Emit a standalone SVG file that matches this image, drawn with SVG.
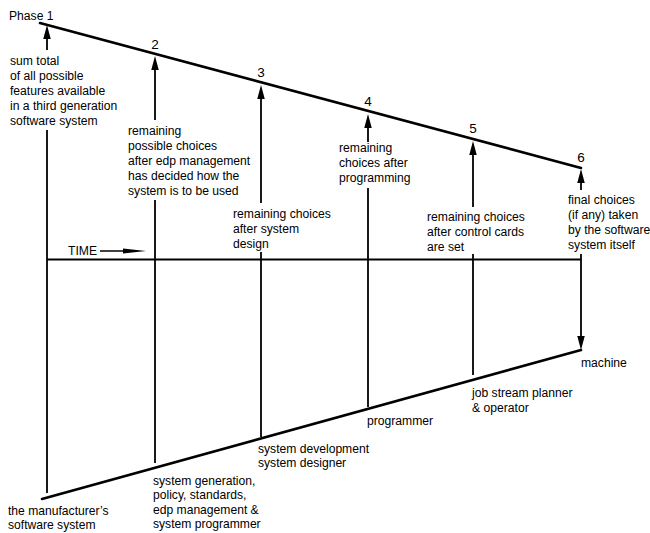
<svg xmlns="http://www.w3.org/2000/svg" width="650" height="533" viewBox="0 0 650 533">
<style>
.t{font-family:"Liberation Sans",Arial,sans-serif;font-size:13.5px;fill:#000}
.s{font-family:"Liberation Sans",Arial,sans-serif;font-size:12.5px;fill:#000}
.n{font-family:"Liberation Sans",Arial,sans-serif;font-size:13.5px;fill:#000;text-anchor:middle}
.thick{stroke:#000;stroke-width:2.6;fill:none;stroke-linecap:round}
.v{stroke:#000;stroke-width:1.8;fill:none}
</style>
<defs>
<marker id="ah" markerUnits="userSpaceOnUse" markerWidth="16" markerHeight="8" refX="10" refY="3.75" orient="auto">
<path d="M0,0 L14,3.75 L0,7.5 z" fill="#000"/>
</marker>
</defs>
<rect width="650" height="533" fill="#fff"/>

<g id="connectors">
<line class="thick" x1="40" y1="23" x2="581" y2="168"/>
<line class="thick" x1="42" y1="499" x2="581" y2="350"/>
<line class="v" x1="47" y1="259.5" x2="581" y2="259.5" style="stroke-width:2.2"/>
<!-- column 1 -->
<line class="v" x1="47" y1="50" x2="47" y2="29" marker-end="url(#ah)"/>
<line class="v" x1="47" y1="130" x2="47" y2="493"/>
<!-- column 2 -->
<line class="v" x1="155" y1="120" x2="155" y2="60" marker-end="url(#ah)"/>
<line class="v" x1="155" y1="200" x2="155" y2="463"/>
<!-- column 3 -->
<line class="v" x1="261" y1="203" x2="261" y2="89" marker-end="url(#ah)"/>
<line class="v" x1="261" y1="252" x2="261" y2="437"/>
<!-- column 4 -->
<line class="v" x1="368" y1="142" x2="368" y2="118" marker-end="url(#ah)"/>
<line class="v" x1="368" y1="188" x2="368" y2="407"/>
<!-- column 5 -->
<line class="v" x1="473" y1="207" x2="473" y2="145" marker-end="url(#ah)"/>
<line class="v" x1="473" y1="254" x2="473" y2="375"/>
<!-- column 6 -->
<line class="v" x1="581" y1="190" x2="581" y2="173" marker-end="url(#ah)"/>
<line class="v" x1="581" y1="254" x2="581" y2="346" marker-end="url(#ah)"/>
<!-- time arrow -->
<line class="v" x1="100" y1="251" x2="130" y2="251" style="stroke-width:1.5"/>
<path d="M123,248.5 L146,251 L123,253.5 z" fill="#000"/>
</g>

<g id="phase-labels">
<text class="t" transform="translate(9,20) scale(0.9,1)">Phase 1</text>
<text class="n" x="155" y="49">2</text>
<text class="n" x="261" y="77">3</text>
<text class="n" x="368" y="106">4</text>
<text class="n" x="473" y="133">5</text>
<text class="n" x="581" y="162">6</text>
</g>

<g id="node-phase1">
<text class="t" transform="translate(10,65) scale(0.9,1)"><tspan x="0" y="0">sum total</tspan><tspan x="0" y="15">of all possible</tspan><tspan x="0" y="30">features available</tspan><tspan x="0" y="45">in a third generation</tspan><tspan x="0" y="60">software system</tspan></text>
</g>
<g id="node-phase2">
<text class="t" transform="translate(128,135) scale(0.9,1)"><tspan x="0" y="0">remaining</tspan><tspan x="0" y="15">possible choices</tspan><tspan x="0" y="30">after edp management</tspan><tspan x="0" y="45">has decided how the</tspan><tspan x="0" y="60">system is to be used</tspan></text>
</g>
<g id="node-phase3">
<text class="t" transform="translate(233,218) scale(0.9,1)"><tspan x="0" y="0">remaining choices</tspan><tspan x="0" y="15">after system</tspan><tspan x="0" y="30">design</tspan></text>
</g>
<g id="node-phase4">
<text class="t" transform="translate(339,152) scale(0.9,1)"><tspan x="0" y="0">remaining</tspan><tspan x="0" y="15">choices after</tspan><tspan x="0" y="30">programming</tspan></text>
</g>
<g id="node-phase5">
<text class="t" transform="translate(427,221) scale(0.9,1)"><tspan x="0" y="0">remaining choices</tspan><tspan x="0" y="15">after control cards</tspan><tspan x="0" y="30">are set</tspan></text>
</g>
<g id="node-phase6">
<text class="t" transform="translate(568,204) scale(0.9,1)"><tspan x="0" y="0">final choices</tspan><tspan x="0" y="15">(if any) taken</tspan><tspan x="0" y="30">by the software</tspan><tspan x="0" y="45">system itself</tspan></text>
</g>
<g id="time-label">
<text class="t" transform="translate(68,255) scale(0.9,1)">TIME</text>
</g>

<g id="node-manufacturer">
<text class="s" transform="translate(8,515) scale(0.97,1)"><tspan x="0" y="0">the manufacturer’s</tspan><tspan x="0" y="14.5">software system</tspan></text>
</g>
<g id="node-sysgen">
<text class="s" transform="translate(153,485) scale(0.97,1)"><tspan x="0" y="0">system generation,</tspan><tspan x="0" y="14.5">policy, standards,</tspan><tspan x="0" y="29">edp management &amp;</tspan><tspan x="0" y="43.5">system programmer</tspan></text>
</g>
<g id="node-sysdev">
<text class="s" transform="translate(258,453) scale(0.97,1)"><tspan x="0" y="0">system development</tspan><tspan x="0" y="14.5">system designer</tspan></text>
</g>
<g id="node-programmer">
<text class="t" transform="translate(367,425) scale(0.9,1)">programmer</text>
</g>
<g id="node-jobstream">
<text class="t" transform="translate(472,397) scale(0.9,1)"><tspan x="0" y="0">job stream planner</tspan><tspan x="0" y="15">&amp; operator</tspan></text>
</g>
<g id="node-machine">
<text class="t" transform="translate(581,367) scale(0.9,1)">machine</text>
</g>
</svg>
